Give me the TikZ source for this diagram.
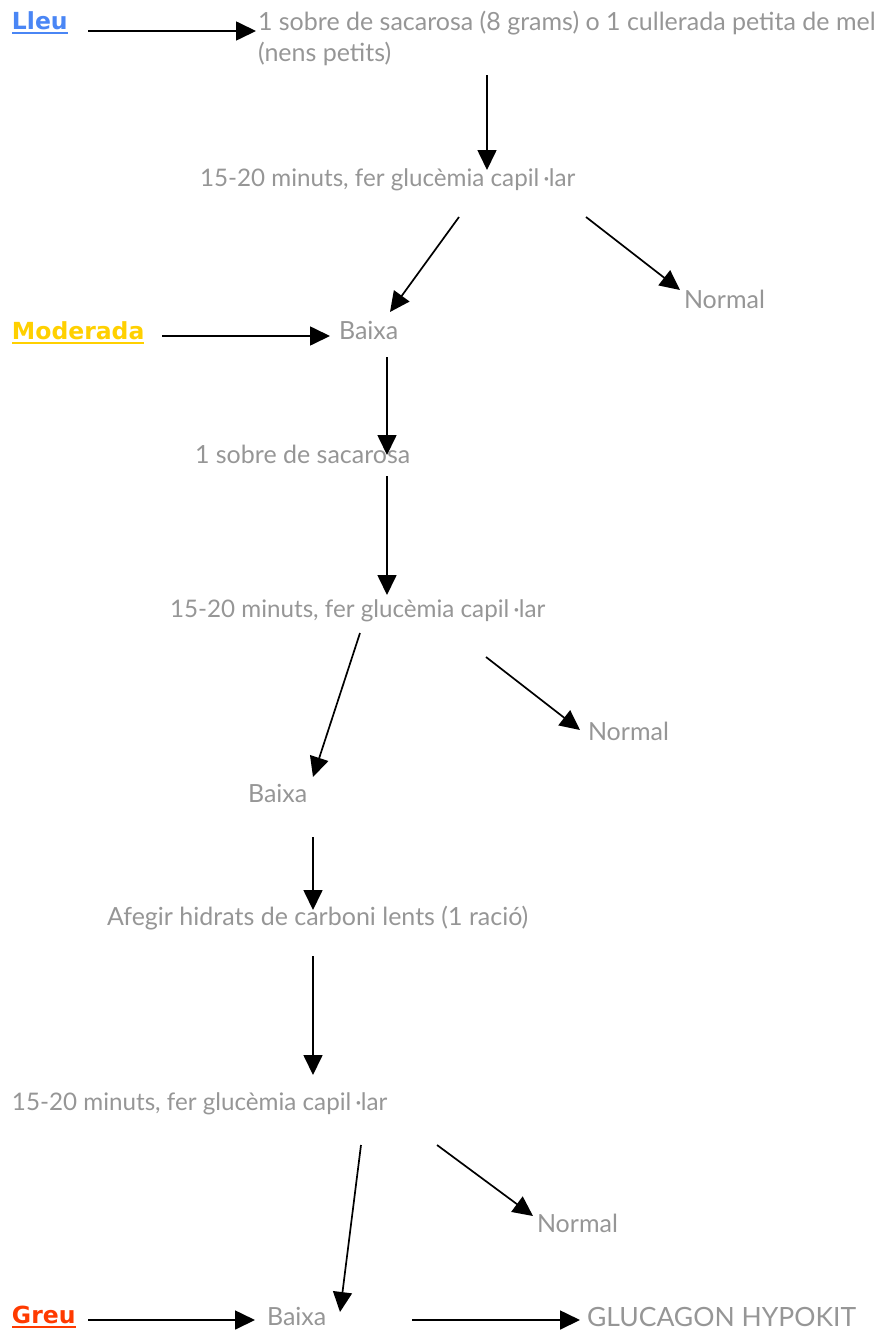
\documentclass[tikz,border=0pt]{standalone}
\usepackage{fontspec}
\setmainfont{Lato}
\newfontfamily\labelfont{DejaVu Sans}
\usetikzlibrary{arrows.meta}
\definecolor{txtgray}{HTML}{969696}
\definecolor{lleublue}{HTML}{4A86F5}
\definecolor{modgold}{HTML}{FFD000}
\definecolor{greured}{HTML}{FF3A00}
\begin{document}
\begin{tikzpicture}[x=1pt,y=-1pt,
  txt/.style={anchor=base west, inner sep=0pt, outer sep=0pt, text=txtgray, font=\fontsize{25}{30}\selectfont},
  chk/.style={txt, font=\fontsize{24.2}{30}\selectfont},
  caps/.style={txt, font=\fontsize{26.5}{30}\selectfont},
  lvl/.style={anchor=base west, inner sep=0pt, outer sep=0pt, font=\labelfont\fontsize{23.5}{28}\selectfont\bfseries},
  arr/.style={draw=black, line width=1.7pt, -{Triangle[length=20pt,width=19pt]}},
  uline/.style={line width=2pt}]
\useasboundingbox (0,0) rectangle (882,1330);
% texts
\node[lvl, text=lleublue] (lleu) at (12,30) {Lleu};
\node[txt] (t1) at (258,31) {1 sobre de sacarosa (8 grams) o 1 cullerada petita de mel};
\node[txt] (t1b) at (258,62) {(nens petits)};
\node[chk] (g1) at (200,186) {15-20 minuts, fer glucèmia capil\,·lar};
\node[txt] (n1) at (684,308) {Normal};
\node[lvl, text=modgold] (mod) at (12,339) {Moderada};
\node[txt] (b1) at (339,339) {Baixa};
\node[txt] (s2) at (195,463) {1 sobre de sacarosa};
\node[chk] (g2) at (170,617) {15-20 minuts, fer glucèmia capil\,·lar};
\node[txt] (n2) at (588,740) {Normal};
\node[txt] (b2) at (248,802) {Baixa};
\node[txt] (c) at (107,925) {Afegir hidrats de carboni lents (1 ració)};
\node[chk] (g3) at (12,1110) {15-20 minuts, fer glucèmia capil\,·lar};
\node[txt] (n3) at (537,1232) {Normal};
\node[lvl, text=greured] (greu) at (12,1323) {Greu};
\node[txt] (b3) at (267,1325) {Baixa};
\node[caps] (gh) at (587,1326) {GLUCAGON HYPOKIT};
% underlines
\draw[uline, lleublue] ([yshift=-3.5pt]lleu.base west) -- ([yshift=-3.5pt]lleu.base east);
\draw[uline, modgold] ([yshift=-3.5pt]mod.base west) -- ([yshift=-3.5pt]mod.base east);
\draw[uline, greured] ([yshift=-3.5pt]greu.base west) -- ([yshift=-3.5pt]greu.base east);
% arrows
\draw[arr] ([shift={(76,1)}]lleu.base west) -- ([shift={(-2,0)}]t1.base west);
\draw[arr] ([shift={(229,13)}]t1b.base west) -- ([shift={(287,-16)}]g1.base west);
\draw[arr] ([shift={(259,31)}]g1.base west) -- ([shift={(51,-27)}]b1.base west);
\draw[arr] ([shift={(386,31)}]g1.base west) -- ([shift={(-4,-18)}]n1.base west);
\draw[arr] ([shift={(150,-3)}]mod.base west) -- ([shift={(-9,-3)}]b1.base west);
\draw[arr] ([shift={(48,18)}]b1.base west) -- ([shift={(192,-8)}]s2.base west);
\draw[arr] ([shift={(192,13)}]s2.base west) -- ([shift={(217,-22)}]g2.base west);
\draw[arr] ([shift={(190,16)}]g2.base west) -- ([shift={(65,-25)}]b2.base west);
\draw[arr] ([shift={(316,40)}]g2.base west) -- ([shift={(-8,-10)}]n2.base west);
\draw[arr] ([shift={(65,35)}]b2.base west) -- ([shift={(206,-15)}]c.base west);
\draw[arr] ([shift={(206,31)}]c.base west) -- ([shift={(301,-35)}]g3.base west);
\draw[arr] ([shift={(349,35)}]g3.base west) -- ([shift={(73,-13)}]b3.base west);
\draw[arr] ([shift={(425,35)}]g3.base west) -- ([shift={(-4,-16)}]n3.base west);
\draw[arr] ([shift={(76,-3)}]greu.base west) -- ([shift={(-12,-5)}]b3.base west);
\draw[arr] ([shift={(145,-5)}]b3.base west) -- ([shift={(-7,-6)}]gh.base west);
\end{tikzpicture}
\end{document}
